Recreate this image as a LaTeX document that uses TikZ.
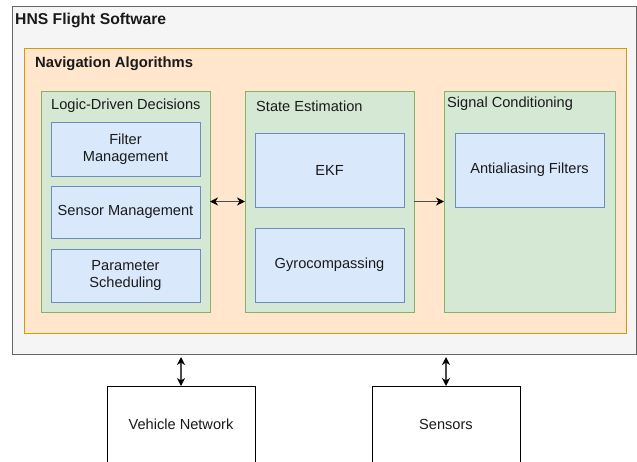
\documentclass[tikz,border=0pt]{standalone}
\usepackage{fontspec}
\setmainfont{Liberation Sans}
\usetikzlibrary{arrows.meta}
\definecolor{swfill}{HTML}{F5F5F5}
\definecolor{swline}{HTML}{666666}
\definecolor{navfill}{HTML}{FFE6CC}
\definecolor{navline}{HTML}{D79B00}
\definecolor{grpfill}{HTML}{D5E8D4}
\definecolor{grpline}{HTML}{82B366}
\definecolor{modfill}{HTML}{DAE8FC}
\definecolor{modline}{HTML}{6C8EBF}
\definecolor{txt}{HTML}{1A1A1A}
\tikzset{
  region/.style={draw, rectangle, inner sep=0pt, outer sep=0pt, anchor=north west, line width=0.9pt},
  software/.style={region, fill=swfill, draw=swline},
  navbox/.style={region, fill=navfill, draw=navline},
  group/.style={region, fill=grpfill, draw=grpline},
  module/.style={region, fill=modfill, draw=modline, align=center, text=txt, font=\fontsize{14.6}{17}\selectfont},
  extbox/.style={region, fill=white, draw=black, text=txt, font=\fontsize{14.6}{17}\selectfont},
  caption/.style={anchor=west, inner sep=0pt, text=txt, font=\fontsize{14.6}{17}\selectfont},
  heading/.style={anchor=west, inner sep=0pt, text=txt, font=\fontsize{15.7}{18}\selectfont\bfseries},
  tip/.style={Stealth[length=8pt,width=8pt,inset=2.5pt,fill=black,draw=black]},
  link/.style={line width=1.2pt, draw=black!70, -{Stealth[length=8pt,width=8pt,inset=2.5pt,color=black]}},
  duplex/.style={line width=1.2pt, draw=black!70, {Stealth[length=8pt,width=8pt,inset=2.5pt,color=black]}-{Stealth[length=8pt,width=8pt,inset=2.5pt,color=black]}},
}
\begin{document}
\begin{tikzpicture}[x=1pt,y=-1pt]
\useasboundingbox (0,0) rectangle (637,461);

% outer software container
\node[software, minimum width=624pt, minimum height=348pt] (hns) at (12,6) {};
\node[heading] (hnst) at (15,20) {HNS Flight Software};

% navigation algorithms container
\node[navbox, minimum width=602pt, minimum height=285pt] (nav) at (24,48) {};
\node[heading, font=\fontsize{14.8}{17}\selectfont\bfseries] (navt) at (35,64) {Navigation Algorithms};

% logic-driven decisions group
\node[group, minimum width=169pt, minimum height=221pt] (ldd) at (41,91) {};
\node[caption] (lddt) at (51,106) {Logic-Driven Decisions};
\node[module, minimum width=149pt, minimum height=54pt] (fm) at (51,122) {Filter\\Management};
\node[module, minimum width=149pt, minimum height=52pt] (sm) at (51,186) {Sensor Management};
\node[module, minimum width=149pt, minimum height=53pt] (ps) at (51,249) {Parameter\\Scheduling};

% state estimation group
\node[group, minimum width=169pt, minimum height=221pt] (se) at (245,91) {};
\node[caption] (set) at (256,106) {State Estimation};
\node[module, minimum width=149pt, minimum height=74pt] (ekf) at (255,133) {EKF};
\node[module, minimum width=149pt, minimum height=74pt] (gyro) at (255,228) {Gyrocompassing};

% signal conditioning group
\node[group, minimum width=171pt, minimum height=221pt] (sc) at (444,91) {};
\node[caption] (sct) at (447,104) {Signal Conditioning};
\node[module, minimum width=149pt, minimum height=74pt] (aaf) at (455,133) {Antialiasing Filters};

% external systems
\node[extbox, minimum width=148pt, minimum height=76pt] (vn) at (107,386) {Vehicle Network};
\node[extbox, minimum width=148pt, minimum height=76pt] (sens) at (372,386) {Sensors};

% data flow
\draw[duplex] (ldd.east) -- (se.west);
\draw[link] (se.east) -- (sc.west);
\draw[duplex] (vn.north) -- ([yshift=-3pt]vn.north |- hns.south);
\draw[duplex] (sens.north) -- ([yshift=-3pt]sens.north |- hns.south);
\end{tikzpicture}
\end{document}
